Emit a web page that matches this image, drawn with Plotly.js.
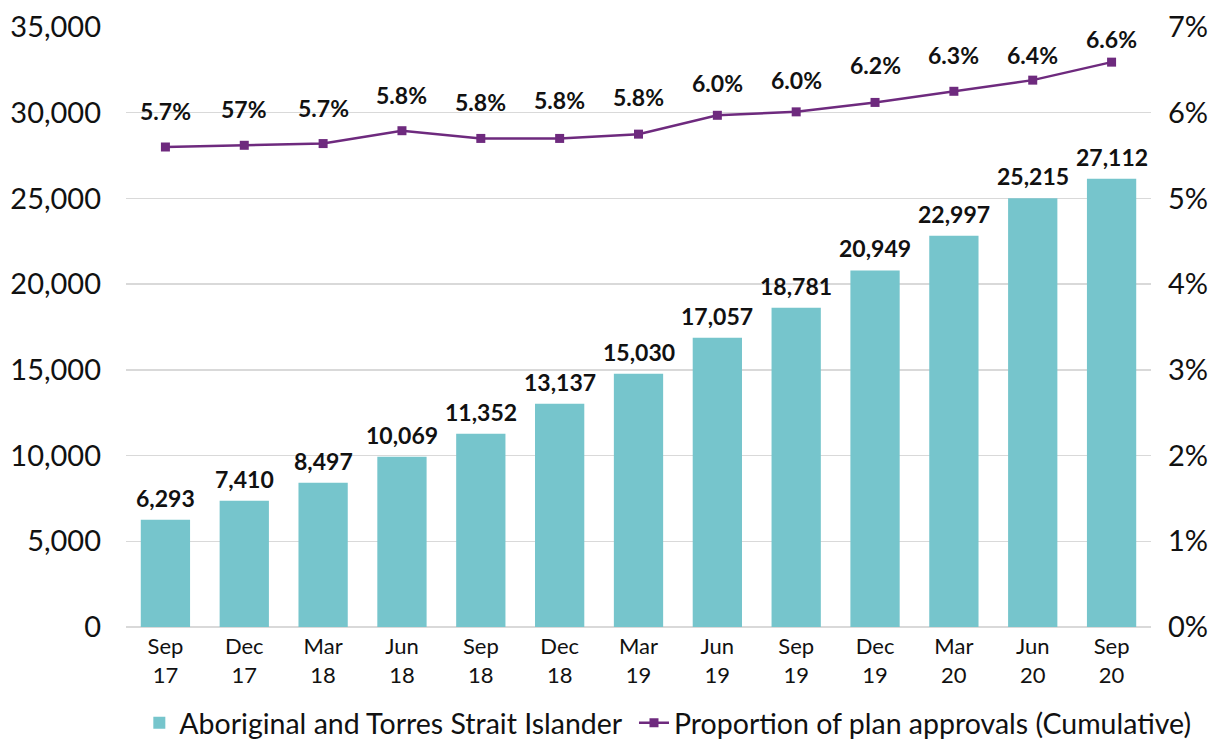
<!DOCTYPE html>
<html>
<head>
<meta charset="utf-8">
<script src="https://cdn.plot.ly/plotly-3.0.1.min.js"></script>
<style>
  html, body { margin: 0; padding: 0; background: #ffffff; }
  #chart { width: 1219px; height: 740px; }
</style>
</head>
<body>
<div id="chart"></div>
<script>
// ---- data ----
const quarters = ["Sep<br>17", "Dec<br>17", "Mar<br>18", "Jun<br>18", "Sep<br>18", "Dec<br>18",
                  "Mar<br>19", "Jun<br>19", "Sep<br>19", "Dec<br>19", "Mar<br>20", "Jun<br>20", "Sep<br>20"];
// bar heights as drawn in the picture
const participants = [6260, 7370, 8420, 9935, 11280, 13030, 14780, 16880, 18630, 20800, 22830, 25010, 26150];
// printed bar labels
const participantLabels = ["6,293", "7,410", "8,497", "10,069", "11,352", "13,137", "15,030",
                           "17,057", "18,781", "20,949", "22,997", "25,215", "27,112"];
// cumulative proportion of plan approvals (%)
const proportion = [5.60, 5.62, 5.64, 5.79, 5.70, 5.70, 5.75, 5.97, 6.01, 6.12, 6.25, 6.38, 6.59];
const proportionLabels = ["5.7%", "57%", "5.7%", "5.8%", "5.8%", "5.8%", "5.8%",
                          "6.0%", "6.0%", "6.2%", "6.3%", "6.4%", "6.6%"];
const leftTicks = [0, 5000, 10000, 15000, 20000, 25000, 30000, 35000];
const leftTickText = ["0", "5,000", "10,000", "15,000", "20,000", "25,000", "30,000", "35,000"];
const rightTicks = [0, 1, 2, 3, 4, 5, 6, 7];
const rightTickText = ["0%", "1%", "2%", "3%", "4%", "5%", "6%", "7%"];

// ---- styling ----
const FONT = "Lato, 'Open Sans', sans-serif";
const TEAL = "#76C5CC";
const PURPLE = "#6E2A7E";
const pctLabelLift = [36, 36, 36, 36, 36, 38, 37, 32, 32, 37, 36, 25, 23];

const traces = [
  {
    type: "bar",
    x: quarters,
    y: participants,
    name: "Aboriginal and Torres Strait Islander",
    marker: { color: TEAL },
    legend: "legend",
    hoverinfo: "skip"
  },
  {
    type: "scatter",
    mode: "lines+markers",
    x: quarters,
    y: proportion,
    yaxis: "y2",
    name: "Proportion of plan approvals (Cumulative)",
    line: { color: PURPLE, width: 2.5 },
    marker: { color: PURPLE, symbol: "square", size: 9 },
    legend: "legend2",
    hoverinfo: "skip"
  }
];

const annotations = [];
quarters.forEach((q, i) => {
  annotations.push({
    x: q, y: participants[i], xref: "x", yref: "y",
    text: participantLabels[i], showarrow: false,
    yanchor: "middle", yshift: 22,
    font: { family: FONT, size: 23, color: "#111111", weight: "bold" }
  });
  annotations.push({
    x: q, y: proportion[i], xref: "x", yref: "y2",
    text: proportionLabels[i], showarrow: false,
    yanchor: "middle", yshift: pctLabelLift[i],
    font: { family: FONT, size: 23, color: "#111111", weight: "bold" }
  });
});

const legendFont = { family: FONT, size: 28.5, color: "#111111" };

const layout = {
  width: 1219,
  height: 740,
  margin: { l: 126, r: 68, t: 27, b: 113, autoexpand: false },
  paper_bgcolor: "#ffffff",
  plot_bgcolor: "#ffffff",
  font: { family: FONT, color: "#111111" },
  bargap: 0.375,
  showlegend: true,
  legend: {
    orientation: "h",
    x: 0.013, xanchor: "left",
    y: -0.118, yanchor: "top",
    font: legendFont,
    itemwidth: 30
  },
  legend2: {
    orientation: "h",
    x: 0.4956, xanchor: "left",
    y: -0.118, yanchor: "top",
    font: legendFont,
    itemwidth: 30
  },
  xaxis: {
    type: "category",
    range: [-0.5, 12.5],
    tickfont: { family: FONT, size: 22, color: "#111111" },
    showgrid: false,
    showline: false,
    ticks: "",
    ticklabelstandoff: 4
  },
  yaxis: {
    range: [0, 35000],
    tickvals: leftTicks,
    ticktext: leftTickText,
    tickfont: { family: FONT, size: 29, color: "#111111" },
    showgrid: true,
    gridcolor: "#D9D9D9",
    gridwidth: 1.5,
    zeroline: true,
    zerolinecolor: "#D9D9D9",
    zerolinewidth: 1.5,
    showline: false,
    ticks: "",
    ticklabelstandoff: 24
  },
  yaxis2: {
    overlaying: "y",
    side: "right",
    range: [0, 7],
    tickvals: rightTicks,
    ticktext: rightTickText,
    tickfont: { family: FONT, size: 29, color: "#111111" },
    showgrid: false,
    zeroline: false,
    showline: false,
    ticks: "",
    ticklabelstandoff: 16
  },
  annotations: annotations
};

Plotly.newPlot("chart", traces, layout, { displayModeBar: false, staticPlot: true });
</script>
</body>
</html>
